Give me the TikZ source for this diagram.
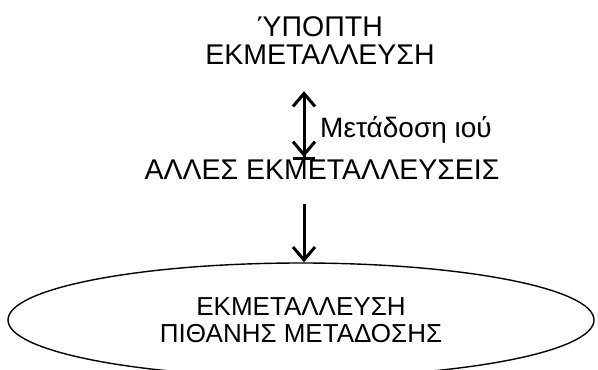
\documentclass[tikz,border=0pt]{standalone}
\usepackage{fontspec}
\setmainfont{Liberation Sans}
\usetikzlibrary{arrows.meta, shapes.geometric, positioning}

\begin{document}
\begin{tikzpicture}[
      x=1pt, y=-1pt,
      txt/.style={
          align=center,
          inner sep=0pt,
          font=\fontsize{28.5}{28}\selectfont
        },
      lbl/.style={
          inner sep=0pt,
          anchor=base west,
          font=\fontsize{28}{28}\selectfont
        },
      farm/.style={
          ellipse,
          draw,
          line width=1.4pt,
          minimum width=586pt,
          minimum height=114pt,
          inner sep=0pt,
          align=center,
          font=\fontsize{26}{27.5}\selectfont
        },
      arrow/.style={
          -{Straight Barb[length=13pt,width=22pt]},
          line width=3pt
        },
      biarrow/.style={
          {Straight Barb[length=13pt,width=22pt]}-{Straight Barb[length=13pt,width=22pt]Bar[width=22pt]},
          line width=3pt
        }
    ]
    \clip (0,0) rectangle (598,370);

    % Nodes
    \node[txt] (suspect) at (320,41) {ΎΠΟΠΤΗ\\ΕΚΜΕΤΑΛΛΕΥΣΗ};
    \node[txt] (other) at (322,170) {ΑΛΛΕΣ ΕΚΜΕΤΑΛΛΕΥΣΕΙΣ};
    \node[farm] (target) at (301,320) {ΕΚΜΕΤΑΛΛΕΥΣΗ\\ΠΙΘΑΝΗΣ ΜΕΤΑΔΟΣΗΣ};
    \coordinate (axis) at (304,0);
    \node[lbl] (transm) at (320,137) {Μετάδοση ιού};

    % Arrows
    \draw[biarrow] (suspect.south -| axis) ++(0,26) -- (other.north -| axis);
    \draw[arrow] (other.south -| axis) ++(0,24) -- (target.north -| axis);
  \end{tikzpicture}
\end{document}
